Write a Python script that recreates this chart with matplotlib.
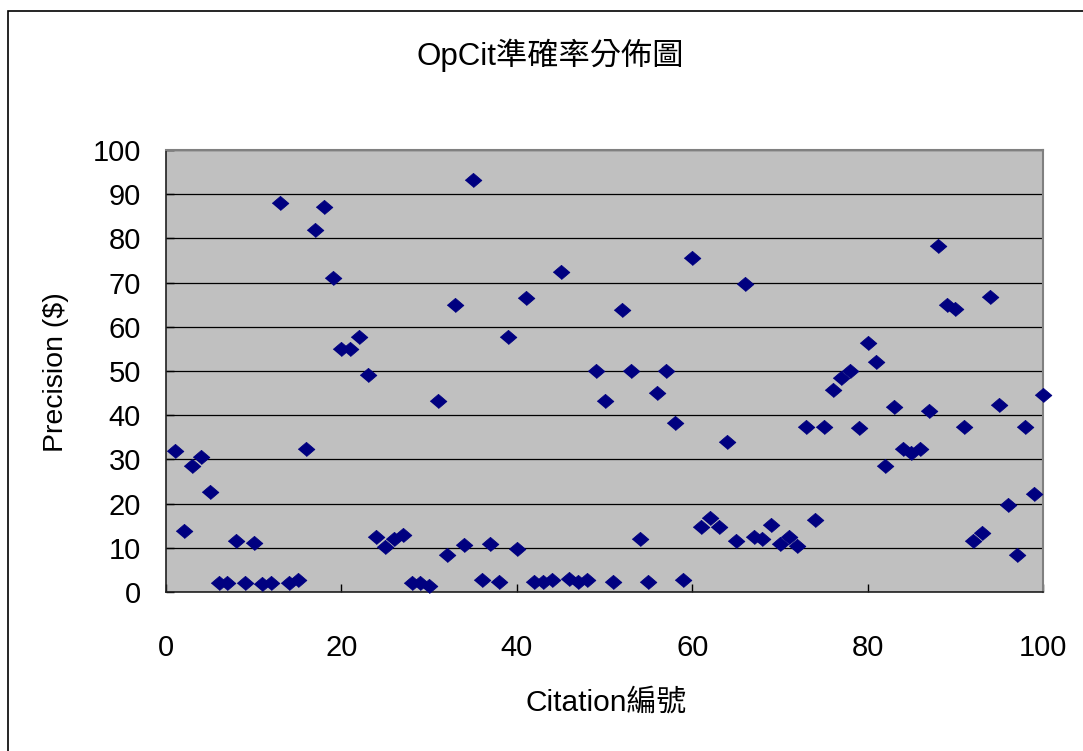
import numpy as np
import matplotlib
matplotlib.use("Agg")
import matplotlib.pyplot as plt
from matplotlib.patches import Rectangle

plt.rcParams['font.family'] = ['Liberation Sans', 'Noto Sans CJK TC', 'DejaVu Sans']

# citation number and precision
citation = np.arange(1, 101)
precision = [
    32.0, 13.8, 28.5, 30.5, 22.6, 2.0, 2.0, 11.5, 2.0, 11.0,
    1.8, 2.0, 88.0, 2.0, 2.7, 32.3, 82.0, 87.2, 71.0, 55.0,
    55.0, 57.8, 49.0, 12.4, 10.2, 12.0, 12.9, 2.0, 2.0, 1.3,
    43.2, 8.3, 65.0, 10.6, 93.2, 2.8, 10.9, 2.3, 57.8, 9.7,
    66.5, 2.2, 2.3, 2.8, 72.5, 3.0, 2.2, 2.7, 50.0, 43.2,
    2.2, 63.8, 50.0, 12.0, 2.2, 45.0, 50.0, 38.2, 2.8, 75.5,
    14.7, 16.7, 14.7, 34.0, 11.5, 69.7, 12.4, 12.0, 15.2, 10.9,
    12.4, 10.4, 37.3, 16.3, 37.3, 45.7, 48.4, 50.0, 37.1, 56.3,
    52.0, 28.5, 41.9, 32.3, 31.4, 32.3, 41.0, 78.3, 65.0, 64.0,
    37.3, 11.5, 13.3, 66.7, 42.3, 19.7, 8.4, 37.3, 22.2, 44.6,
]
x_ticks = [0, 20, 40, 60, 80, 100]
y_ticks = list(range(0, 101, 10))

W, H = 1083, 751
fig = plt.figure(figsize=(W / 100, H / 100), dpi=100)
fig.patch.set_facecolor('white')

# outer chart border (cut off at right/bottom in the original)
fig.add_artist(Rectangle((7.5 / W, -0.05), 1.2, 1 - 10.5 / H + 0.05,
                         transform=fig.transFigure, fill=False,
                         edgecolor='black', linewidth=1.2))

left, right, top, bottom = 166, 1043, 150, 592
ax = fig.add_axes([left / W, 1 - bottom / H, (right - left) / W, (bottom - top) / H])
ax.set_facecolor('#C0C0C0')

diamond = [(-1, 0), (0, 0.85), (1, 0), (0, -0.85)]
ax.plot(citation, precision, linestyle='none', marker=diamond, markersize=12,
        color='#000080', markeredgecolor='#000080', markeredgewidth=0.6,
        zorder=3, clip_on=False)

ax.set_xlim(0, 100)
ax.set_ylim(0, 100)
ax.set_xticks(x_ticks)
ax.set_yticks(y_ticks)
ax.yaxis.grid(True, color='black', linewidth=0.9)
ax.set_axisbelow(True)
ax.tick_params(axis='both', direction='in', length=6, width=1, colors='black',
               labelsize=21)
ax.tick_params(axis='y', pad=18)
ax.tick_params(axis='x', pad=30)

for side in ('top', 'right'):
    ax.spines[side].set_color('#808080')
    ax.spines[side].set_linewidth(1.5)
for side in ('left', 'bottom'):
    ax.spines[side].set_color('#202020')
    ax.spines[side].set_linewidth(1.2)

fig.text(550 / W, 1 - 55 / H, 'OpCit準確率分佈圖', ha='center', va='center', fontsize=22.5)
fig.text(606 / W, 1 - 703 / H, 'Citation編號', ha='center', va='center', fontsize=21.5)
fig.text(56 / W, 1 - 372 / H, 'Precision ($)', ha='center', va='center',
         rotation=90, fontsize=20.5)

fig.savefig('out.png', dpi=100)
